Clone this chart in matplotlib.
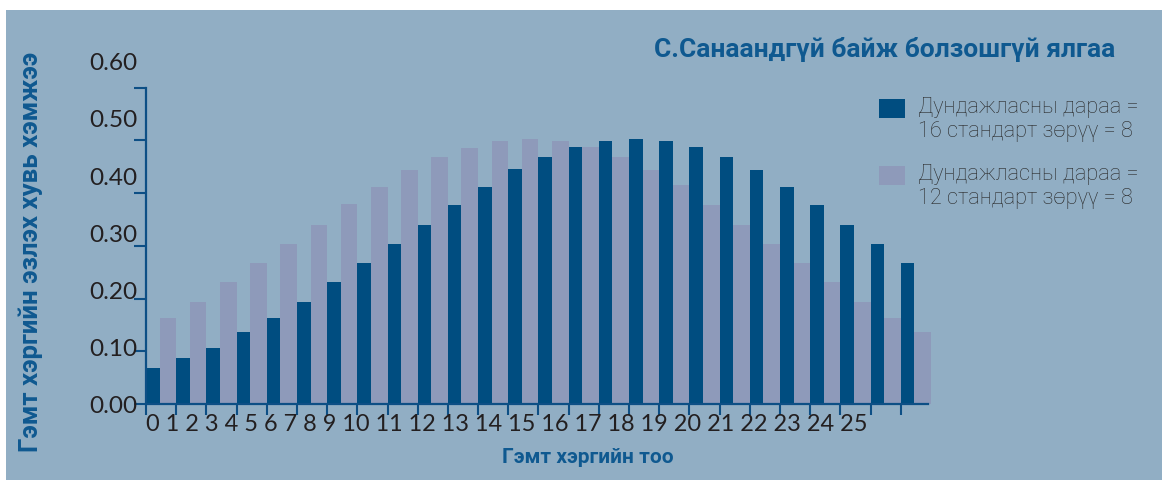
import matplotlib
matplotlib.use('Agg')
import numpy as np
from matplotlib import pyplot as plt
from matplotlib.container import BarContainer
from matplotlib.legend_handler import HandlerPatch, update_from_first_child
from matplotlib.patches import Rectangle
from matplotlib.transforms import blended_transform_factory

# data
crimes = ['0', '1', '2', '3', '4', '5', '6', '7', '8', '9', '10', '11', '12',
          '13', '14', '15', '16', '17', '18', '19', '20', '21', '22', '23',
          '24', '25']
mean16 = [0.068, 0.087, 0.106, 0.137, 0.164, 0.194, 0.232, 0.268, 0.304,
          0.340, 0.378, 0.412, 0.445, 0.468, 0.487, 0.498, 0.502, 0.498,
          0.487, 0.468, 0.443, 0.412, 0.378, 0.340, 0.304, 0.268]
mean12 = [0.164, 0.194, 0.232, 0.268, 0.304, 0.340, 0.380, 0.412, 0.443,
          0.468, 0.485, 0.498, 0.502, 0.498, 0.487, 0.468, 0.443, 0.416,
          0.378, 0.340, 0.304, 0.268, 0.232, 0.194, 0.164, 0.137]
y_ticks = [0.0, 0.1, 0.2, 0.3, 0.4, 0.5, 0.6]
y_tick_labels = ['0.00', '0.10', '0.20', '0.30', '0.40', '0.50', '0.60']
label16 = 'Дундажласны дараа =\n16 стандарт зөрүү = 8'
label12 = 'Дундажласны дараа =\n12 стандарт зөрүү = 8'
title = 'С.Санаандгүй байж болзошгүй ялгаа'
x_title = 'Гэмт хэргийн тоо'
y_title = 'Гэмт хэргийн эзлэх хувь хэмжээ'

BG = '#91aec4'
DARK = '#004d80'
LIGHT = '#8e9aba'
AXIS = '#0d4f85'
TITLE_C = '#0f5990'
TEXT_C = '#231f20'

W, H = 1162, 481


def first_line_patch(legend, orig_handle, xdescent, ydescent, width, height,
                     fontsize):
    # legend swatch sits beside the first line of a two-line label
    return Rectangle((-xdescent, -ydescent + 0.48 * fontsize), width, height)


fig = plt.figure(figsize=(W / 100, H / 100), dpi=100, facecolor='white')
fig.patches.append(Rectangle((6 / W, 0), 1, 1 - 11 / H, transform=fig.transFigure,
                             facecolor=BG, edgecolor='none', zorder=-10))

ax = fig.add_axes([146 / W, 76 / H, 794 / W, 348 / H])
ax.set_facecolor('none')

x = np.arange(len(crimes))
ax.bar(x, mean16, width=0.45, align='edge', color=DARK, label=label16)
ax.bar(x + 0.45, mean12, width=0.55, align='edge', color=LIGHT, label=label12)

ax.set_xlim(0, 26.3)
ax.set_ylim(0, 0.66)

for side in ('top', 'right'):
    ax.spines[side].set_visible(False)
for side in ('left', 'bottom'):
    ax.spines[side].set_color(AXIS)
    ax.spines[side].set_linewidth(1.6)
ax.spines['left'].set_bounds(0, 0.6)
ax.spines['bottom'].set_bounds(0, 25.9)

# tick marks at group boundaries, labels set as one running line like the original
ax.set_xticks(x)
ax.set_xticklabels([])
ax.tick_params(axis='x', length=8, width=1.5, color=AXIS)
tr = blended_transform_factory(ax.transData, ax.transAxes)
ax.text(0, -0.075, ' '.join(crimes), transform=tr, ha='left', va='baseline',
        fontsize=16.9, family='Lato', color=TEXT_C)

# y labels are spaced slightly wider than the tick marks in the original
label_scale = 1.085
ax.yaxis.remove_overlapping_locs = False
ax.set_yticks(y_ticks)
ax.set_yticklabels([])
ax.set_yticks(np.array(y_ticks) * label_scale, minor=True)
ax.set_yticklabels(y_tick_labels, minor=True, fontsize=17.6, family='Lato',
                   color=TEXT_C)
ax.tick_params(axis='y', which='major', length=8.5, width=1.5, color=AXIS)
ax.tick_params(axis='y', which='minor', length=0, pad=6)

ax.set_xlabel(x_title, fontsize=15, family='Roboto', fontweight='bold',
              color=TITLE_C)
ax.xaxis.set_label_coords((588 - 146) / 794, -(448 - 405) / 348)
ax.set_ylabel(y_title, fontsize=18.6, family='Roboto', fontweight='bold',
              color=TITLE_C)
ax.yaxis.set_label_coords((43 - 146) / 794, (405 - 252) / 348)

fig.text(1115 / W, 1 - 50 / H, title, ha='right', va='center', fontsize=19,
         family='Roboto', fontweight='bold', color=TITLE_C)

ax.legend(loc='upper left', bbox_to_anchor=(879 / W, 1 - 97 / H),
          bbox_transform=fig.transFigure, frameon=False,
          prop={'family': 'Roboto', 'size': 15.7, 'weight': 'light'},
          labelcolor='#2a2a2a', handlelength=1.17, handleheight=0.93,
          handletextpad=0.6, labelspacing=1.0, borderaxespad=0, borderpad=0,
          handler_map={BarContainer: HandlerPatch(patch_func=first_line_patch,
                                                  update_func=update_from_first_child)})

fig.savefig('out.png', dpi=100, facecolor='white')
